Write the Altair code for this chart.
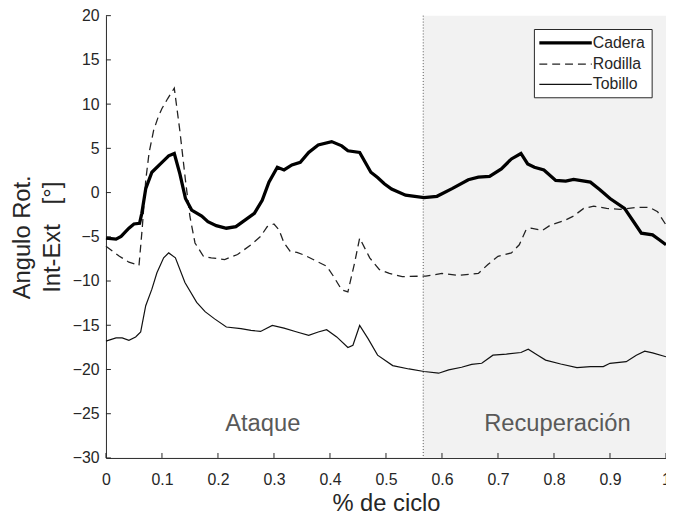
import altair as alt
import pandas as pd

# ---------------- data ----------------
cadera_x = [0, .018, .027, .041, .05, .06, .064, .071, .082, .1, .112, .122, .132, .142, .153,
            .171, .182, .197, .215, .232, .247, .265, .279, .291, .306, .318, .332, .347, .362,
            .379, .403, .421, .432, .453, .473, .485, .497, .51, .535, .568, .591, .618, .647,
            .665, .685, .706, .724, .741, .753, .765, .782, .803, .821, .835, .865, .882, .9,
            .926, .944, .956, .976, .988, 1.0]
cadera_y = [-5.15, -5.26, -4.96, -4.03, -3.55, -3.47, -2.35, 0.44, 2.3, 3.42, 4.16, 4.42, 2.12,
            -0.67, -1.98, -2.65, -3.29, -3.74, -4.03, -3.85, -3.18, -2.35, -0.87, 1.18, 2.86,
            2.56, 3.12, 3.42, 4.53, 5.39, 5.76, 5.28, 4.72, 4.53, 2.3, 1.7, 1.0, 0.4, -0.3,
            -0.56, -0.42, 0.44, 1.45, 1.74, 1.82, 2.68, 3.8, 4.42, 3.24, 2.86, 2.56, 1.37, 1.29,
            1.48, 1.18, 0.33, -0.67, -1.79, -3.47, -4.59, -4.78, -5.34, -5.9]

rodilla_x = [0, .024, .041, .059, .065, .071, .077, .085, .093, .1, .11, .122, .132, .142, .15,
             .159, .174, .188, .212, .235, .259, .276, .288, .3, .309, .318, .329, .341, .356,
             .376, .394, .406, .421, .432, .444, .453, .471, .488, .506, .529, .571, .6, .629,
             .665, .682, .7, .724, .738, .75, .759, .779, .794, .818, .835, .853, .871, .894,
             .918, .947, .971, .985, 1.0]
rodilla_y = [-6.08, -7.2, -7.87, -8.24, -3.85, 1.37, 4.5, 7.0, 8.5, 9.5, 10.6, 11.8, 6.96, 1.37,
             -2.73, -5.7, -7.2, -7.38, -7.57, -7.0, -5.9, -4.97, -3.85, -3.55, -4.22, -5.7,
             -6.64, -6.75, -7.12, -7.76, -8.32, -9.44, -11.0, -11.22, -7.94, -5.15, -7.38,
             -8.69, -9.14, -9.5, -9.44, -9.14, -9.36, -9.14, -8.13, -7.2, -6.82, -5.9, -4.22,
             -4.03, -4.29, -3.66, -3.18, -2.65, -1.79, -1.54, -1.79, -1.9, -1.68, -1.68, -2.17,
             -3.66]

tobillo_x = [0, .018, .029, .041, .053, .062, .071, .082, .091, .103, .112, .124, .141, .162,
             .177, .194, .215, .241, .259, .276, .297, .318, .341, .362, .379, .394, .412, .432,
             .441, .453, .468, .485, .512, .541, .568, .594, .612, .635, .653, .671, .691, .715,
             .741, .754, .771, .785, .812, .841, .865, .888, .9, .929, .947, .962, .976, 1.0]
tobillo_y = [-16.8, -16.43, -16.43, -16.7, -16.32, -15.76, -12.79, -10.92, -9.06, -7.38, -6.82,
             -7.38, -10.17, -12.41, -13.46, -14.28, -15.2, -15.39, -15.58, -15.7, -15.02, -15.32,
             -15.76, -16.14, -15.76, -15.5, -16.32, -17.52, -17.26, -15.02, -16.51, -18.38,
             -19.56, -19.94, -20.23, -20.42, -20.05, -19.75, -19.42, -19.3, -18.38, -18.26,
             -18.08, -17.7, -18.38, -18.94, -19.38, -19.79, -19.67, -19.67, -19.3, -19.12,
             -18.38, -17.93, -18.12, -18.56]

series_names = ["Cadera", "Rodilla", "Tobillo"]
phase_names = ["Ataque", "Recuperación"]
phase_label_x = [0.28, 0.806]
phase_label_y = [-27.0, -27.0]
phase_split = 0.5665

x_ticks = [0, 0.1, 0.2, 0.3, 0.4, 0.5, 0.6, 0.7, 0.8, 0.9, 1.0]
y_ticks = [-30, -25, -20, -15, -10, -5, 0, 5, 10, 15, 20]
x_domain = [0, 1]
y_domain = [-30, 20]

# ---------------- styling ----------------
FONT = "Liberation Sans"
AX = "#262626"
W, H = 566, 447

X_SCALE = alt.Scale(domain=x_domain, nice=False, zero=False)
Y_SCALE = alt.Scale(domain=y_domain, nice=False, zero=False)

x_axis = alt.Axis(values=x_ticks, format="~g", title="% de ciclo", ticks=False, tickSize=0,
                  grid=False, domainColor=AX, domainWidth=1, labelColor=AX, labelFontSize=16,
                  labelFont=FONT, labelPadding=14, labelFlush=False, labelOverlap=False,
                  titleFont=FONT, titleFontSize=24, titleFontWeight="normal", titleColor=AX,
                  titleY=53, titleBaseline="alphabetic")
y_axis = alt.Axis(values=y_ticks, format="d",
                  title=["Angulo Rot.", "Int-Ext\u00a0\u00a0\u00a0[°]"],
                  ticks=False, tickSize=0, grid=False, domainColor=AX, domainWidth=1,
                  labelColor=AX, labelFontSize=16, labelFont=FONT, labelPadding=7,
                  labelFlush=False, labelOverlap=False, titleFont=FONT, titleFontSize=24,
                  titleFontWeight="normal", titleColor=AX, titleAngle=270, titleX=-77,
                  titleY=H / 2, titleAlign="center", titleBaseline="alphabetic",
                  titleLineHeight=30)

# background region (Recuperación)
bg_df = pd.DataFrame({"x0": [phase_split], "x1": [x_domain[1]],
                      "y0": [y_domain[0]], "y1": [y_domain[1]]})
background = alt.Chart(bg_df).mark_rect(color="#f2f2f2").encode(
    x=alt.X("x0:Q", scale=X_SCALE, axis=x_axis),
    x2="x1",
    y=alt.Y("y0:Q", scale=Y_SCALE, axis=y_axis),
    y2="y1",
)

divider = alt.Chart(bg_df).mark_rule(color="#555555", strokeWidth=1, strokeDash=[1, 2]).encode(
    x=alt.X("x0:Q", scale=X_SCALE)
)

styles = {
    "Cadera": dict(color="#000000", strokeWidth=3.3),
    "Rodilla": dict(color="#222222", strokeWidth=1.3, strokeDash=[8, 5]),
    "Tobillo": dict(color="#111111", strokeWidth=1.2),
}
series_data = {
    "Cadera": (cadera_x, cadera_y),
    "Rodilla": (rodilla_x, rodilla_y),
    "Tobillo": (tobillo_x, tobillo_y),
}

lines = []
for name in ["Tobillo", "Rodilla", "Cadera"]:
    xs, ys = series_data[name]
    df = pd.DataFrame({"x": xs, "y": ys, "i": list(range(len(xs)))})
    lines.append(
        alt.Chart(df).mark_line(**styles[name]).encode(
            x=alt.X("x:Q", scale=X_SCALE),
            y=alt.Y("y:Q", scale=Y_SCALE),
            order="i:Q",
        )
    )

# inward ticks
xt = alt.Chart(pd.DataFrame({"t": x_ticks})).mark_rule(color=AX, strokeWidth=1).encode(
    x=alt.X("t:Q", scale=X_SCALE), y=alt.value(H), y2=alt.value(H - 5)
)
yt = alt.Chart(pd.DataFrame({"t": y_ticks})).mark_rule(color=AX, strokeWidth=1).encode(
    y=alt.Y("t:Q", scale=Y_SCALE), x=alt.value(0), x2=alt.value(5)
)

# phase labels
phase_df = pd.DataFrame({"name": phase_names, "x": phase_label_x, "y": phase_label_y})
phase_text = alt.Chart(phase_df).mark_text(
    font=FONT, fontSize=24, color="#595959", align="center", baseline="alphabetic"
).encode(
    x=alt.X("x:Q", scale=X_SCALE),
    y=alt.Y("y:Q", scale=Y_SCALE),
    text="name:N",
)

# legend box
dummy = pd.DataFrame({"k": [0]})
leg_box = alt.Chart(dummy).mark_rect(fill="white", stroke=AX, strokeWidth=1).encode(
    x=alt.value(433), x2=alt.value(552), y=alt.value(14), y2=alt.value(83)
)
legend_layers = [leg_box]
row_y = [27.5, 49, 69.5]
for name, ry in zip(series_names, row_y):
    legend_layers.append(
        alt.Chart(dummy).mark_rule(**styles[name]).encode(
            x=alt.value(438), x2=alt.value(491), y=alt.value(ry)
        )
    )
    legend_layers.append(
        alt.Chart(dummy).mark_text(font=FONT, fontSize=16, color=AX, align="left",
                                   baseline="middle").encode(
            x=alt.value(492), y=alt.value(ry), text=alt.value(name)
        )
    )

chart = alt.layer(
    background, divider, *lines, xt, yt, phase_text, *legend_layers
).properties(
    width=W, height=H,
    autosize=alt.AutoSizeParams(type="none"),
    padding={"left": 99, "top": 5, "right": 0, "bottom": 62},
).configure_view(stroke=None)

chart.save("out.html", embed_options={"renderer": "svg", "actions": False})
